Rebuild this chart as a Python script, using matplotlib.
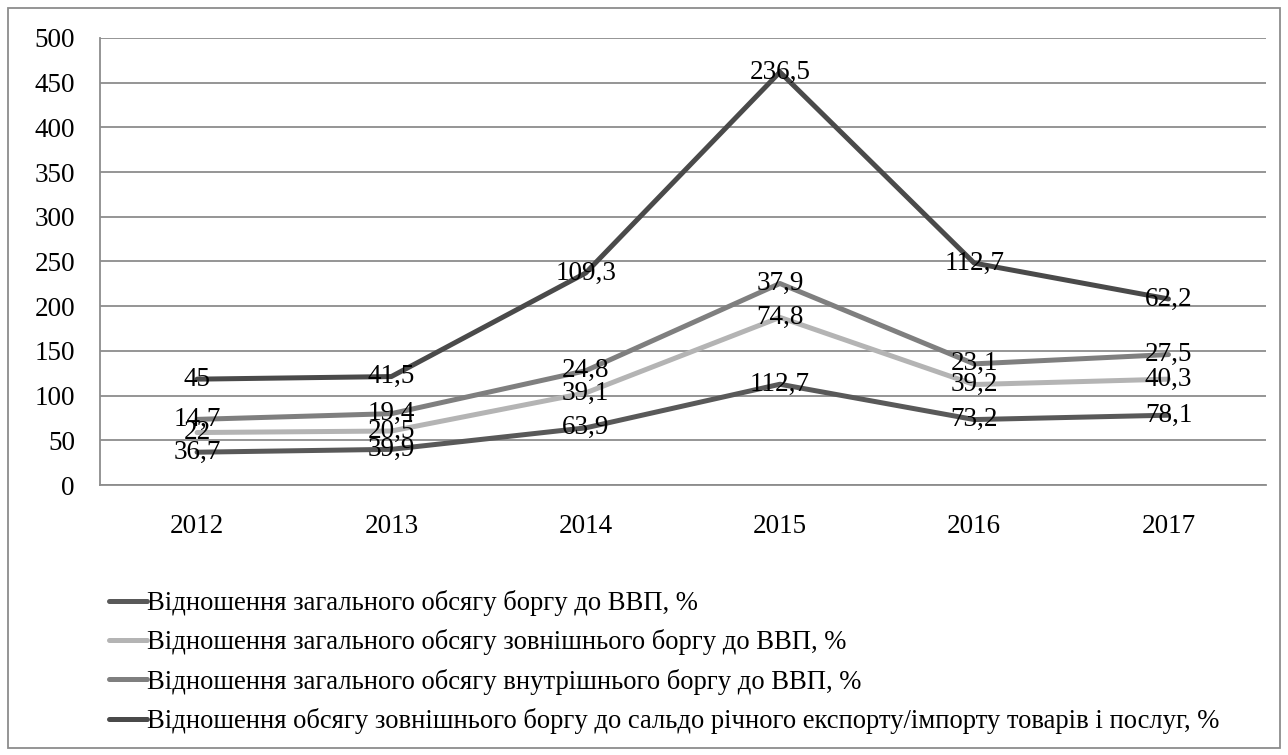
import numpy as np
import matplotlib.pyplot as plt
from matplotlib.patches import Rectangle

years = ["2012", "2013", "2014", "2015", "2016", "2017"]

total_debt_gdp = [36.7, 39.9, 63.9, 112.7, 73.2, 78.1]
external_debt_gdp = [22, 20.5, 39.1, 74.8, 39.2, 40.3]
internal_debt_gdp = [14.7, 19.4, 24.8, 37.9, 23.1, 27.5]
external_to_balance = [45, 41.5, 109.3, 236.5, 112.7, 62.2]

labels = [
    "Відношення загального обсягу боргу до ВВП, %",
    "Відношення загального обсягу зовнішнього боргу до ВВП, %",
    "Відношення загального обсягу внутрішнього боргу до ВВП, %",
    "Відношення обсягу зовнішнього боргу до сальдо річного експорту/імпорту товарів і послуг, %",
]
colors = ["#595959", "#b4b4b4", "#7f7f7f", "#4a4a4a"]

plt.rcParams["font.family"] = ["Liberation Serif", "DejaVu Serif"]

fig = plt.figure(figsize=(12.88, 7.55), dpi=100)
ax = fig.add_axes([0.0776, 0.3576, 0.905, 0.5921])

x = np.arange(len(years))
series = [total_debt_gdp, external_debt_gdp, internal_debt_gdp, external_to_balance]
base = np.zeros(len(years))
for vals, col, lab in zip(series, colors, labels):
    cum = base + np.array(vals)
    ax.plot(x, cum, color=col, lw=3.6, label=lab, solid_capstyle="round", zorder=3)
    # data labels show each series' own value at the stacked position
    for xi, yi, v in zip(x, cum, vals):
        txt = f"{v:g}".replace(".", ",")
        ax.text(xi, yi, txt, ha="center", va="center", fontsize=19.5, color="black", zorder=4)
    base = cum

ax.set_xlim(-0.5, len(years) - 0.5)
ax.set_ylim(0, 500)
ax.set_yticks(np.arange(0, 501, 50))
ax.set_xticks(x)
ax.set_xticklabels(years)
ax.tick_params(axis="both", labelsize=19.5, length=0)
ax.tick_params(axis="y", pad=18)
ax.tick_params(axis="x", pad=21)
ax.grid(axis="y", color="#8c8c8c", lw=1.3)
ax.set_axisbelow(True)
for s in ["top", "right"]:
    ax.spines[s].set_visible(False)
for s in ["left", "bottom"]:
    ax.spines[s].set_color("#8c8c8c")
    ax.spines[s].set_linewidth(1.3)

ax.legend(loc="upper left", bbox_to_anchor=(-0.001, -0.211), frameon=False,
          fontsize=19.2, handlelength=1.4, handletextpad=0.02,
          labelspacing=0.5, borderaxespad=0)

fig.patches.append(Rectangle((0.006, 0.009), 0.988, 0.981, transform=fig.transFigure,
                             fill=False, edgecolor="#8c8c8c", lw=1.3))

fig.savefig("out.png", dpi=100)
